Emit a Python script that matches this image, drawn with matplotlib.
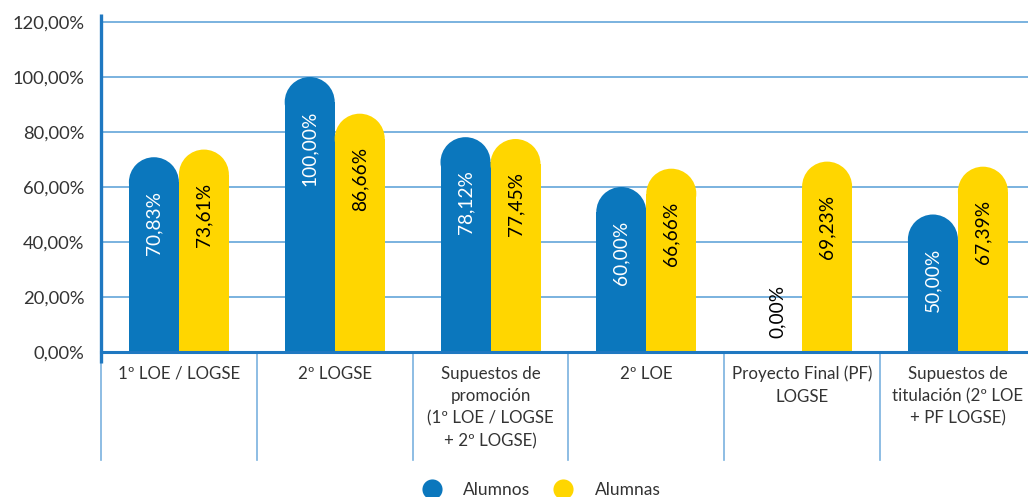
import matplotlib
matplotlib.use("Agg")
import matplotlib.pyplot as plt
from matplotlib.patches import Rectangle, Ellipse
from matplotlib.lines import Line2D

plt.rcParams['font.family'] = ['Lato', 'DejaVu Sans']

categories = ["1º LOE / LOGSE", "2º LOGSE",
              "Supuestos de\npromoción\n(1º LOE / LOGSE\n+ 2º LOGSE)",
              "2º LOE", "Proyecto Final (PF)\nLOGSE",
              "Supuestos de\ntitulación (2º LOE\n+ PF LOGSE)"]
alumnos = [70.83, 100.00, 78.12, 60.00, 0.00, 50.00]
alumnas = [73.61, 86.66, 77.45, 66.66, 69.23, 67.39]
series_names = ["Alumnos", "Alumnas"]
yticks = [0, 20, 40, 60, 80, 100, 120]

BLUE = '#0b77bd'
YELLOW = '#ffd600'
GRID = '#7ab2df'
AXIS = '#1f78c1'
TXT = '#333333'

W, H = 1028, 497
fig = plt.figure(figsize=(W / 100, H / 100), dpi=100)
ax = fig.add_axes([101 / W, (H - 352) / H, (W - 101) / W, (352 - 14) / H])
ax.set_xlim(0, (W - 101) / 155.8)
ax.set_ylim(0, 338 / 2.75)
for s in ax.spines.values():
    s.set_visible(False)
ax.set_xticks([])
ax.set_yticks(yticks)
ax.set_yticklabels([f"{t:.2f}".replace('.', ',') + '%' for t in yticks],
                   fontsize=13.2, color=TXT)
ax.tick_params(axis='y', length=0, pad=12)
for t in yticks[1:]:
    ax.axhline(t, color=GRID, lw=1.4, zorder=1)

# pixel scale
p0 = ax.transData.transform((0, 0))
p1 = ax.transData.transform((1, 1))
px_x = p1[0] - p0[0]
px_y = p1[1] - p0[1]

bw = 50 / px_x
ry = (bw * px_x / 2) / px_y

def rbar(xc, v, color):
    if v <= 0:
        return
    ax.add_patch(Rectangle((xc - bw / 2, 0), bw, v - ry, facecolor=color,
                           edgecolor='none', zorder=3))
    ax.add_patch(Ellipse((xc, v - ry), bw, 2 * ry, facecolor=color,
                         edgecolor='none', zorder=3))

for i, (a, b) in enumerate(zip(alumnos, alumnas)):
    c = i + 0.5
    for xc, v, col, tc in [(c - bw / 2, a, BLUE, 'white'), (c + bw / 2, b, YELLOW, 'black')]:
        rbar(xc, v, col)
        lab = f"{v:.2f}".replace('.', ',') + '%'
        if v > 0:
            ax.annotate(lab, (xc, v), xytext=(0, -24), textcoords='offset points',
                        rotation=90, ha='center', va='top', fontsize=13.8,
                        color=tc, zorder=4)
        else:
            ax.annotate(lab, (xc, v), xytext=(0, 10), textcoords='offset points',
                        rotation=90, ha='center', va='bottom', fontsize=13.8,
                        color='black', zorder=4)
    ax.annotate(categories[i], (c, 0), xytext=(0, -10), textcoords='offset points',
                ha='center', va='top', fontsize=12.2, color=TXT,
                linespacing=1.48, annotation_clip=False)

# axis lines
ybot = -(460 - 352) / px_y
for i in range(len(categories)):
    ax.plot([i, i], [0, ybot], color=GRID, lw=1.2, clip_on=False, zorder=2)
ax.plot([0, 0], [-(363 - 352) / px_y, ax.get_ylim()[1]], color=AXIS, lw=2.4,
        clip_on=False, zorder=5, solid_capstyle='butt')
ax.plot([0, ax.get_xlim()[1]], [0, 0], color=AXIS, lw=2.2, clip_on=False, zorder=5)

handles = [Line2D([], [], marker='o', ls='none', markersize=14.5, color=BLUE,
                  markeredgewidth=0),
           Line2D([], [], marker='o', ls='none', markersize=14.5, color=YELLOW,
                  markeredgewidth=0)]
fig.legend(handles, series_names, loc='center', bbox_to_anchor=(0.523, 0.014),
           ncol=2, frameon=False, fontsize=12.5, handletextpad=0.8,
           columnspacing=0.9, labelcolor=TXT)

fig.savefig('out.png', dpi=100)
